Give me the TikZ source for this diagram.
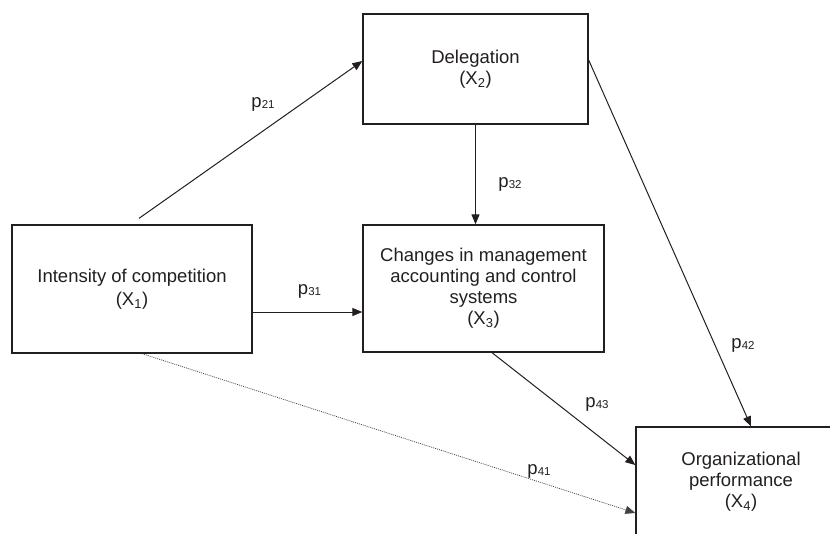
\documentclass[tikz,border=0pt]{standalone}
\usepackage{fontspec}
\setmainfont{Liberation Sans}
\usetikzlibrary{arrows.meta}
\definecolor{ink}{HTML}{231F20}
\newcommand{\plab}[1]{p\raisebox{-1pt}{\fontsize{11.5}{12}\selectfont #1}}
\newcommand{\xlab}[1]{(X\textsubscript{#1})}
\begin{document}
\begin{tikzpicture}[x=1pt,y=-1pt,
  box/.style={draw=ink, line width=1.3pt, align=center, inner sep=0pt, text=ink,
    font=\fontsize{18.5}{21}\selectfont},
  lab/.style={anchor=base, text=ink, inner sep=0pt, font=\fontsize{18.5}{21}\selectfont},
  arr/.style={-{Triangle[length=10pt,width=8pt]}, line width=1pt, draw=ink},
  dotarr/.style={-{Triangle[length=10pt,width=8pt]}, line width=0.7pt, dash pattern=on 1pt off 1pt, draw=ink!85}]
\useasboundingbox (0,0) rectangle (830,533);
\clip (0,0) rectangle (830,533);
\fill[white] (0,0) rectangle (830,533);

\node[box, minimum width=240pt, minimum height=128pt, font=\fontsize{18.5}{23}\selectfont] (X1) at (132,289) {Intensity of competition\\\xlab{1}};
\node[box, minimum width=225pt, minimum height=110pt] (X2) at (475.5,69) {Delegation\\\xlab{2}};
\node[box, minimum width=241pt, minimum height=127pt] (X3) at (483.5,288.5) {Changes in management\\accounting and control\\systems\\\xlab{3}};
\node[box, minimum width=210pt, minimum height=110pt] (X4) at (741,482) {Organizational\\performance\\\xlab{4}};

\draw[arr] ([xshift=7pt,yshift=6pt]X1.north) -- ([yshift=8pt]X2.west);
\draw[arr] (X2.south) -- (X2.south |- X3.north);
\draw[arr] ([yshift=-23pt]X1.east) -- ([yshift=-23pt]X1.east -| X3.west);
\draw[arr] ([yshift=9pt]X2.east) -- ([xshift=10pt]X4.north);
\draw[arr] ([xshift=8.5pt]X3.south) -- ([yshift=17pt]X4.west);
\draw[dotarr] ([xshift=10pt]X1.south) -- ([yshift=-31pt]X4.west);

\node[lab] (l21) at (263,107) {\plab{21}};
\node[lab] (l32) at (510,187) {\plab{32}};
\node[lab] (l31) at (309.5,294) {\plab{31}};
\node[lab] (l42) at (743,348) {\plab{42}};
\node[lab] (l43) at (597,407) {\plab{43}};
\node[lab] (l41) at (539,474) {\plab{41}};
\end{tikzpicture}
\end{document}
